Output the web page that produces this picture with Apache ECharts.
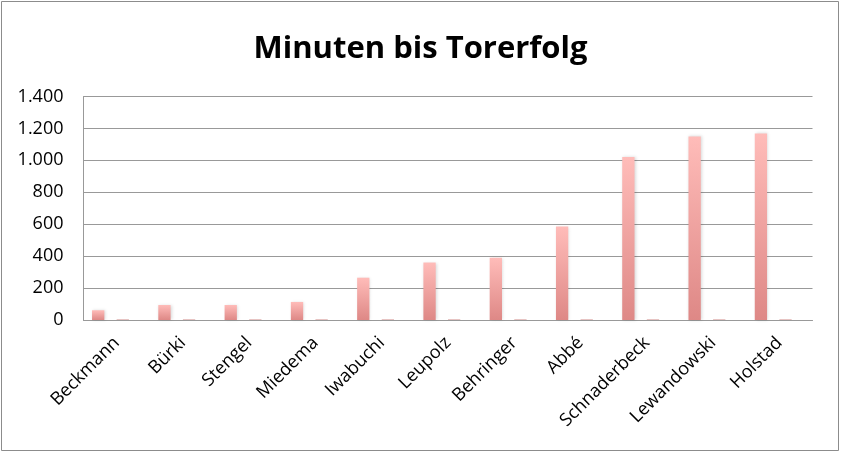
<!DOCTYPE html>
<html><head><meta charset="utf-8">
<script src="https://cdn.jsdelivr.net/npm/echarts@6/dist/echarts.min.js"></script>
<style>html,body{margin:0;padding:0;background:#fff}#c{width:841px;height:453px}</style>
</head><body><div id="c"></div>
<script>
const categories = ['Beckmann','Bürki','Stengel','Miedema','Iwabuchi','Leupolz','Behringer','Abbé','Schnaderbeck','Lewandowski','Holstad'];
const minutes = [61, 94, 94, 113, 265, 360, 390, 585, 1021, 1150, 1169];
const emptyA = [null,null,null,null,null,null,null,null,null,null,null];
const small = [4, 4, 4, 4, 4, 4, 4, 4, 4, 4, 4];
const emptyB = [null,null,null,null,null,null,null,null,null,null,null];
const yTicks = { min: 0, max: 1400, interval: 200 };

const chart = echarts.init(document.getElementById('c'), null, {renderer:'canvas'});
const grad = new echarts.graphic.LinearGradient(0,0,0,1,[{offset:0,color:'#ffbcb9'},{offset:1,color:'#de8886'}]);
const fontF = '"Open Sans", Lato, sans-serif';
chart.setOption({
  animation: false,
  backgroundColor: '#fff',
  title: { text: 'Minuten bis Torerfolg', left: 'center', top: 29,
    textStyle: { fontFamily: fontF, fontWeight: 'bold', fontSize: 31, color: '#000' } },
  grid: { left: 83.5, right: 28.5, top: 96.5, bottom: 133, containLabel: false },
  xAxis: { type: 'category', data: categories,
    axisLine: { lineStyle: { color: '#999999', width: 1 } }, axisTick: { show: false },
    axisLabel: { rotate: 45, interval: 0, margin: 20, fontFamily: fontF, fontSize: 18, color: '#000' } },
  yAxis: { type: 'value', min: yTicks.min, max: yTicks.max, interval: yTicks.interval,
    axisLine: { show: true, lineStyle: { color: '#999999' } }, axisTick: { show: false },
    splitLine: { lineStyle: { color: '#999999', width: 1 } },
    axisLabel: { margin: 20, fontFamily: fontF, fontSize: 18, color: '#000',
      formatter: v => String(v).replace(/\B(?=(\d{3})+(?!\d))/g, '.') } },
  series: [
    { type: 'bar', data: minutes, barWidth: 12.3, barGap: '0%',
      itemStyle: { color: grad, shadowColor: 'rgba(0,0,0,0.15)', shadowBlur: 3, shadowOffsetX: 1 } },
    { type: 'bar', data: emptyA, barWidth: 12.3, barGap: '0%' },
    { type: 'bar', data: small, barWidth: 12.3, barGap: '0%', itemStyle: { color: '#d9a3a1' } },
    { type: 'bar', data: emptyB, barWidth: 12.3, barGap: '0%' }
  ],
  graphic: [{ type: 'rect', shape: { x: 1.5, y: 1.5, width: 837, height: 449 },
    style: { fill: 'none', stroke: '#8c8c8c', lineWidth: 1 }, silent: true }]
});
</script></body></html>
